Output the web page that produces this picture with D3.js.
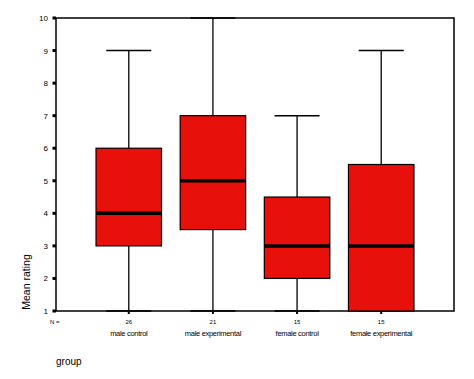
<!DOCTYPE html>
<html><head><meta charset="utf-8">
<script src="https://cdn.jsdelivr.net/npm/d3@7"></script>
<style>body{margin:0;background:#fff}svg{display:block}text{font-family:Arial,"Liberation Sans",sans-serif;fill:#000}</style>
</head><body>
<script>
const categories = ["male control","male experimental","female control","female experimental"];
const counts = ["26","21","15","15"];
const whiskerLow = [1,1,1,1];
const q1 = [3,3.5,2,1];
const medians = [4,5,3,3];
const q3 = [6,7,4.5,5.5];
const whiskerHigh = [9,10,7,9];
const yTicks = [1,2,3,4,5,6,7,8,9,10];

const W=474,H=379;
const svg=d3.select("body").append("svg").attr("width",W).attr("height",H);
const pL=56,pR=454,pT=18,pB=311;
const x=d3.scalePoint().domain(categories).range([pL,pR]).padding(0.865);
const y=d3.scaleLinear().domain([1,10]).range([pB,pT]);
const boxW=65.5, capW=45;

svg.append("rect").attr("x",pL).attr("y",pT).attr("width",pR-pL).attr("height",pB-pT)
  .attr("fill","none").attr("stroke","#000").attr("stroke-width",1.5);

const data=categories.map((c,i)=>({c,lo:whiskerLow[i],q1:q1[i],med:medians[i],q3:q3[i],hi:whiskerHigh[i],n:counts[i]}));
const g=svg.append("g");
data.forEach(d=>{
  const cx=x(d.c);
  g.append("line").attr("x1",cx).attr("x2",cx).attr("y1",y(d.hi)).attr("y2",y(d.q3)).attr("stroke","#000").attr("stroke-width",1.3);
  g.append("line").attr("x1",cx).attr("x2",cx).attr("y1",y(d.q1)).attr("y2",y(d.lo)).attr("stroke","#000").attr("stroke-width",1.3);
  g.append("line").attr("x1",cx-capW/2).attr("x2",cx+capW/2).attr("y1",y(d.hi)).attr("y2",y(d.hi)).attr("stroke","#000").attr("stroke-width",1.5);
  g.append("line").attr("x1",cx-capW/2).attr("x2",cx+capW/2).attr("y1",y(d.lo)).attr("y2",y(d.lo)).attr("stroke","#000").attr("stroke-width",1.5);
  g.append("rect").attr("x",cx-boxW/2).attr("y",y(d.q3)).attr("width",boxW).attr("height",y(d.q1)-y(d.q3))
    .attr("fill","#e8100a").attr("stroke","#000").attr("stroke-width",1.2);
  g.append("line").attr("x1",cx-boxW/2).attr("x2",cx+boxW/2).attr("y1",y(d.med)).attr("y2",y(d.med)).attr("stroke","#000").attr("stroke-width",3.5);
  g.append("rect").attr("x",cx-1).attr("y",pB+1).attr("width",2).attr("height",2).attr("fill","#000");
  g.append("text").attr("x",cx).attr("y",324).attr("text-anchor","middle").attr("font-size",6).text(d.n);
  g.append("text").attr("x",cx).attr("y",336).attr("text-anchor","middle").attr("font-size",7.5).attr("letter-spacing",-0.3).text(d.c);
});

yTicks.forEach(t=>{
  svg.append("rect").attr("x",pL-3.5).attr("y",y(t)-1.5).attr("width",3.5).attr("height",3).attr("fill","#000");
  svg.append("text").attr("x",pL-8).attr("y",y(t)+3).attr("text-anchor","end").attr("font-size",8).text(t);
});
svg.append("text").attr("x",pL-6).attr("y",324).attr("font-size",6).text("N =");
svg.append("text").attr("transform","translate(30,282) rotate(-90)").attr("text-anchor","middle").attr("font-size",10.5).text("Mean rating");
svg.append("text").attr("x",56).attr("y",365).attr("font-size",10).text("group");
</script>
</body></html>
